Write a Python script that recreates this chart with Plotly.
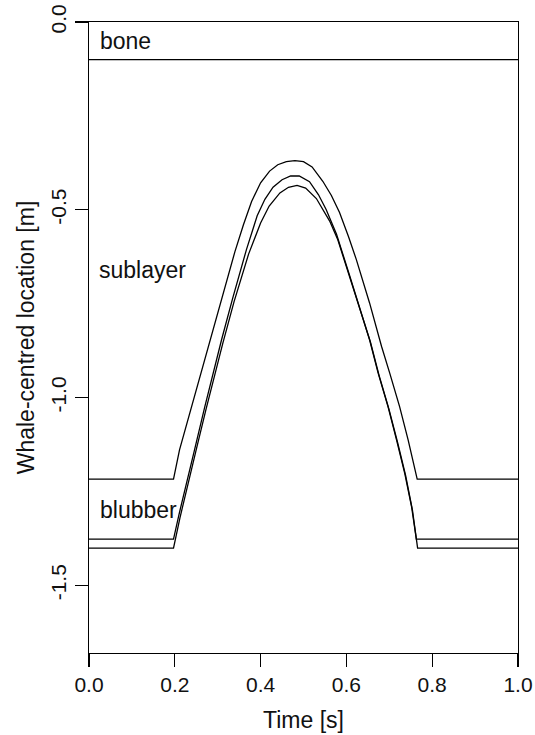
import plotly.graph_objects as go

# ---- data ----
bone_x = [0.0, 1.0]
bone_y = [-0.1, -0.1]

line1_x = [0.0, 0.197, 0.211, 0.235, 0.258, 0.281, 0.310, 0.340, 0.360, 0.379, 0.400, 0.421,
           0.440, 0.460, 0.480, 0.500, 0.520, 0.545, 0.565, 0.584, 0.605, 0.623, 0.654, 0.682,
           0.701, 0.724, 0.744, 0.765, 1.0]
line1_y = [-1.217, -1.217, -1.139, -1.041, -0.944, -0.854, -0.735, -0.612, -0.540, -0.478, -0.428, -0.397,
           -0.380, -0.372, -0.369, -0.372, -0.386, -0.424, -0.462, -0.507, -0.572, -0.632, -0.748, -0.864,
           -0.935, -1.024, -1.113, -1.217, -1.217]

line2_x = [0.0, 0.197, 0.210, 0.223, 0.246, 0.270, 0.293, 0.309, 0.335, 0.367, 0.392, 0.410,
           0.429, 0.450, 0.470, 0.490, 0.514, 0.535, 0.553, 0.577, 0.608, 0.635, 0.654, 0.674,
           0.697, 0.717, 0.736, 0.752, 0.763, 1.0]
line2_y = [-1.377, -1.377, -1.310, -1.246, -1.139, -1.024, -0.917, -0.846, -0.735, -0.606, -0.516, -0.472,
           -0.440, -0.420, -0.410, -0.410, -0.425, -0.460, -0.500, -0.565, -0.677, -0.774, -0.846, -0.935,
           -1.024, -1.113, -1.202, -1.291, -1.377, -1.377]

line3_x = [0.0, 0.197, 0.212, 0.226, 0.249, 0.273, 0.296, 0.312, 0.338, 0.372, 0.400, 0.420,
           0.445, 0.465, 0.485, 0.505, 0.530, 0.561, 0.580, 0.610, 0.637, 0.656, 0.676,
           0.699, 0.719, 0.738, 0.754, 0.766, 1.0]
line3_y = [-1.401, -1.401, -1.320, -1.250, -1.143, -1.030, -0.925, -0.855, -0.745, -0.618, -0.535, -0.490,
           -0.455, -0.440, -0.435, -0.442, -0.470, -0.530, -0.580, -0.685, -0.782, -0.852, -0.940,
           -1.030, -1.118, -1.207, -1.300, -1.401, -1.401]

layer_labels = ["bone", "sublayer", "blubber"]
layer_label_x = [0.021, 0.019, 0.021]
layer_label_y = [-0.05, -0.66, -1.30]

x_tick_vals = [0.0, 0.2, 0.4, 0.6, 0.8, 1.0]
x_tick_labels = ["0.0", "0.2", "0.4", "0.6", "0.8", "1.0"]
y_tick_vals = [0.0, -0.5, -1.0, -1.5]
y_tick_labels = ["0.0", "-0.5", "-1.0", "-1.5"]

x_title = "Time [s]"
y_title = "Whale-centred location [m]"

FONT = "Liberation Sans, Arial, sans-serif"
FS_TICK = 21
FS_TEXT = 23
LW = 1.3
TXT = "#111111"

fig = go.Figure()
for xs, ys in [(bone_x, bone_y), (line1_x, line1_y), (line2_x, line2_y), (line3_x, line3_y)]:
    fig.add_trace(go.Scatter(x=xs, y=ys, mode="lines",
                             line=dict(color="black", width=LW), showlegend=False,
                             hoverinfo="skip"))

for t, lx, ly in zip(layer_labels, layer_label_x, layer_label_y):
    fig.add_annotation(x=lx, y=ly, text=t, showarrow=False, xanchor="left", yanchor="middle",
                       font=dict(family=FONT, size=FS_TEXT, color=TXT))

axis_common = dict(showgrid=False, zeroline=False, showline=True, linecolor="black", linewidth=1.2,
                   mirror=True, ticks="outside", ticklen=13, tickwidth=1.2, tickcolor="black",
                   tickfont=dict(family=FONT, size=FS_TICK, color=TXT), automargin=False,
                   ticklabeloverflow="allow")

fig.update_xaxes(range=[0, 1], tickvals=x_tick_vals, ticktext=x_tick_labels, ticklabelstandoff=0,
                 title=dict(text=x_title, font=dict(family=FONT, size=FS_TEXT, color=TXT), standoff=16),
                 **axis_common)
fig.update_yaxes(range=[-1.68, 0], tickvals=y_tick_vals, ticktext=y_tick_labels, tickangle=-90,
                 title=dict(text=y_title, font=dict(family=FONT, size=FS_TEXT, color=TXT), standoff=6),
                 **axis_common)

fig.update_layout(width=535, height=735, margin=dict(l=89, r=17, t=22, b=82),
                  paper_bgcolor="white", plot_bgcolor="white", hovermode=False,
                  font=dict(family=FONT, size=FS_TEXT, color=TXT))

# remove the page's default body margin so the figure sits at the window's top-left corner
fig.write_html("out.html", config={"displayModeBar": False, "staticPlot": True},
               post_script="document.body.style.margin='0';document.body.style.overflow='hidden';")
